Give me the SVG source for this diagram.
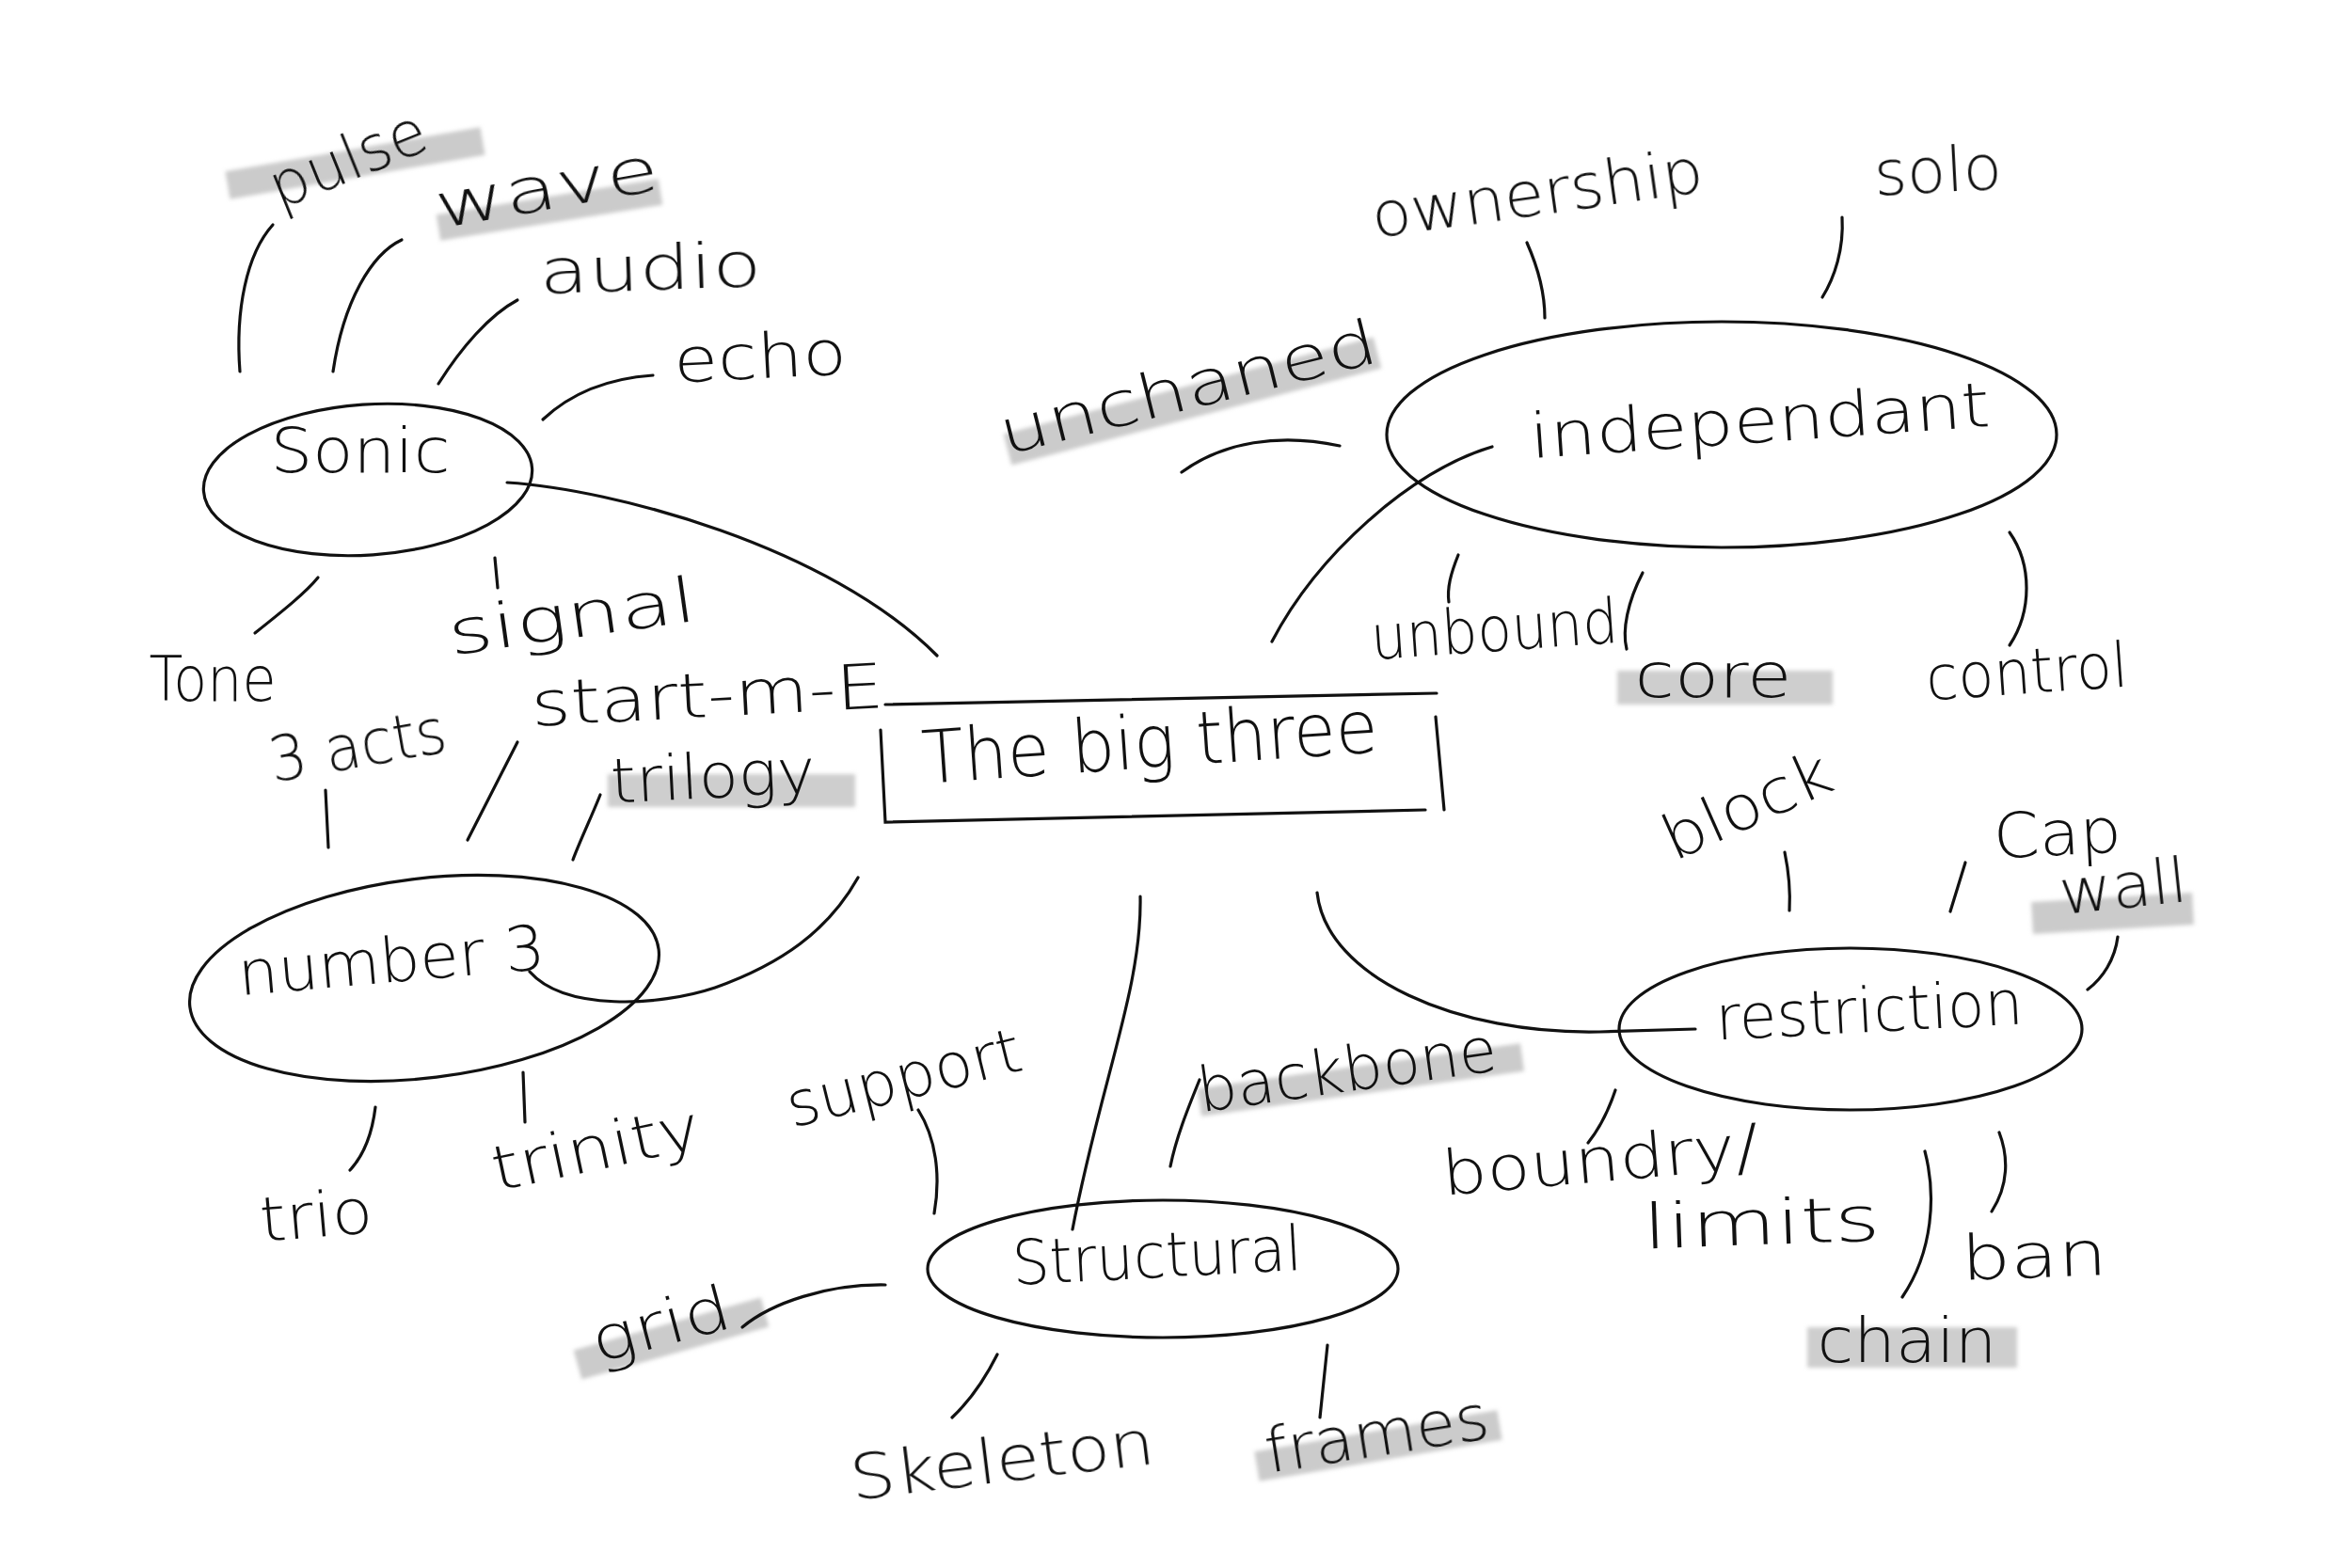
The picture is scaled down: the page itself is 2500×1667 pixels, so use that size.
<svg xmlns="http://www.w3.org/2000/svg" width="2500" height="1667" viewBox="0 0 2500 1667">
<style>
.t{font-family:"DejaVu Sans","Liberation Sans",Arial,sans-serif;font-weight:200;font-size:66px;fill:#111;text-anchor:middle}
.big{font-size:78px}
.n{fill:none;stroke:#111;stroke-width:3.2;stroke-linecap:round}
.c{fill:none;stroke:#111;stroke-width:3.2;stroke-linecap:round}
.hl{fill:none;stroke:#c2c2c2;stroke-linecap:butt;opacity:0.85}
.hr{fill:#c6c6c6;opacity:0.85}
</style>
<defs>
<filter id="soft" x="-10%" y="-30%" width="120%" height="160%"><feGaussianBlur stdDeviation="2"/></filter>
</defs>
<rect width="2500" height="1667" fill="#fff"/>
<g id="highlights" filter="url(#soft)">
<path class="hl" stroke-width="30" d="M242,197 L513,150"/>
<path class="hl" stroke-width="28" d="M466,242 L702,204"/>
<rect class="hr" x="646" y="823" width="263" height="35"/>
<path class="hl" stroke-width="30" d="M1275,1172 L1618,1124"/>
<path class="hl" stroke-width="32" d="M614,1451 L813,1395"/>
<path class="hl" stroke-width="32" d="M1336,1559 L1594,1515"/>
<path class="hl" stroke-width="34" d="M1071,478 L1464,375"/>
<rect class="hr" x="1719" y="713" width="229" height="36"/>
<path class="hl" stroke-width="34" d="M2160,976 L2331,966"/>
<rect class="hr" x="1921" y="1411" width="223" height="43"/>
</g>
<g id="connectors">
<path class="c" d="M539,513 C650,520 880,580 996,697"/>
<path class="c" d="M563,1033 C600,1075 700,1070 760,1050 C830,1025 880,990 912,933"/>
<path class="c" d="M1212,953 C1214,1050 1170,1150 1140,1307"/>
<path class="c" d="M1352,682 C1400,590 1500,500 1586,475"/>
<path class="c" d="M1400,949 C1410,1040 1550,1100 1700,1097 L1802,1094"/>
<path class="c" d="M255,395 C250,330 262,270 290,239"/>
<path class="c" d="M354,395 C365,320 395,270 427,255"/>
<path class="c" d="M466,408 C490,370 520,335 550,319"/>
<path class="c" d="M577,446 C610,415 650,402 694,399"/>
<path class="c" d="M271,673 C300,650 325,630 338,614"/>
<path class="c" d="M526,593 L529,625"/>
<path class="c" d="M346,840 L349,901"/>
<path class="c" d="M550,789 L497,893"/>
<path class="c" d="M638,845 C628,870 616,895 609,914"/>
<path class="c" d="M399,1177 C395,1210 385,1230 372,1244"/>
<path class="c" d="M556,1140 L558,1193"/>
<path class="c" d="M976,1180 C995,1210 1000,1250 993,1290"/>
<path class="c" d="M1275,1148 C1262,1180 1250,1210 1244,1240"/>
<path class="c" d="M789,1411 C820,1385 880,1365 941,1366"/>
<path class="c" d="M1060,1440 C1045,1470 1030,1490 1012,1507"/>
<path class="c" d="M1411,1430 L1403,1507"/>
<path class="c" d="M1256,502 C1300,470 1360,460 1424,474"/>
<path class="c" d="M1623,258 C1635,285 1642,310 1642,338"/>
<path class="c" d="M1958,231 C1960,265 1950,295 1937,316"/>
<path class="c" d="M1550,590 C1542,610 1538,625 1540,640"/>
<path class="c" d="M1746,609 C1730,640 1724,670 1729,690"/>
<path class="c" d="M2136,566 C2160,600 2160,650 2136,686"/>
<path class="c" d="M1897,906 C1902,930 1903,950 1902,968"/>
<path class="c" d="M2089,917 L2073,969"/>
<path class="c" d="M2251,996 C2248,1020 2235,1040 2219,1052"/>
<path class="c" d="M1717,1159 C1710,1180 1700,1200 1688,1215"/>
<path class="c" d="M2046,1224 C2058,1270 2055,1330 2022,1379"/>
<path class="c" d="M2125,1204 C2135,1230 2135,1260 2117,1288"/>
</g>
<g id="node-big-three">
<path class="n" d="M941,749 L1527,737 M936,776 L941,874 L1515,861 M1526,762 L1535,861"/>
<text class="t big" x="1224" y="816" textLength="485" lengthAdjust="spacingAndGlyphs" transform="rotate(-4 1224 816)">The big three</text>
</g>
<g id="node-sonic">
<ellipse class="n" cx="391" cy="510" rx="175" ry="80" transform="rotate(-4 391 510)"/>
<text class="t" x="383" y="502" textLength="191" lengthAdjust="spacingAndGlyphs">Sonic</text>
</g>
<g id="node-number3">
<ellipse class="n" cx="451" cy="1040" rx="251" ry="106" transform="rotate(-7 451 1040)"/>
<text class="t" x="418" y="1044" textLength="327" lengthAdjust="spacingAndGlyphs" transform="rotate(-5 418 1044)">number 3</text>
</g>
<g id="node-structural">
<ellipse class="n" cx="1236" cy="1349" rx="250" ry="73"/>
<text class="t" x="1231" y="1358" textLength="308" lengthAdjust="spacingAndGlyphs" transform="rotate(-3 1231 1358)">Structural</text>
</g>
<g id="node-independant">
<ellipse class="n" cx="1830" cy="462" rx="356" ry="120"/>
<text class="t" x="1872" y="470" textLength="490" lengthAdjust="spacingAndGlyphs" transform="rotate(-4 1872 470)">independant</text>
</g>
<g id="node-restriction">
<ellipse class="n" cx="1967" cy="1094" rx="246" ry="86"/>
<text class="t" x="1988" y="1097" textLength="327" lengthAdjust="spacingAndGlyphs" transform="rotate(-3 1988 1097)">restriction</text>
</g>
<g id="labels">
<text class="t" x="378" y="190" textLength="175" lengthAdjust="spacingAndGlyphs" transform="rotate(-22 378 190)">pulse</text>
<text class="t" x="585" y="222" textLength="240" lengthAdjust="spacingAndGlyphs" transform="rotate(-10 585 222)">wave</text>
<text class="t" x="692" y="308" textLength="236" lengthAdjust="spacingAndGlyphs" transform="rotate(-2 692 308)">audio</text>
<text class="t" x="809" y="402" textLength="184" lengthAdjust="spacingAndGlyphs" transform="rotate(-3 809 402)">echo</text>
<text class="t" x="226" y="745" textLength="135" lengthAdjust="spacingAndGlyphs">Tone</text>
<text class="t" x="611" y="678" textLength="265" lengthAdjust="spacingAndGlyphs" transform="rotate(-8 611 678)">signal</text>
<text class="t" x="384" y="815" textLength="190" lengthAdjust="spacingAndGlyphs" transform="rotate(-10 384 815)">3 acts</text>
<text class="t" x="753" y="762" textLength="375" lengthAdjust="spacingAndGlyphs" transform="rotate(-3 753 762)">start-m-E</text>
<text class="t" x="759" y="848" textLength="218" lengthAdjust="spacingAndGlyphs" transform="rotate(-3 759 848)">trilogy</text>
<text class="t" x="338" y="1315" textLength="120" lengthAdjust="spacingAndGlyphs" transform="rotate(-5 338 1315)">trio</text>
<text class="t" x="638" y="1243" textLength="225" lengthAdjust="spacingAndGlyphs" transform="rotate(-12 638 1243)">trinity</text>
<text class="t" x="966" y="1168" textLength="255" lengthAdjust="spacingAndGlyphs" transform="rotate(-14 966 1168)">support</text>
<text class="t" x="1435" y="1160" textLength="320" lengthAdjust="spacingAndGlyphs" transform="rotate(-8 1435 1160)">backbone</text>
<text class="t" x="708" y="1430" textLength="150" lengthAdjust="spacingAndGlyphs" transform="rotate(-15 708 1430)">grid</text>
<text class="t" x="1068" y="1575" textLength="325" lengthAdjust="spacingAndGlyphs" transform="rotate(-7 1068 1575)">Skeleton</text>
<text class="t" x="1467" y="1547" textLength="240" lengthAdjust="spacingAndGlyphs" transform="rotate(-9 1467 1547)">frames</text>
<text class="t" x="1268" y="434" textLength="411" lengthAdjust="spacingAndGlyphs" transform="rotate(-14 1268 434)">unchaned</text>
<text class="t" x="1637" y="228" textLength="355" lengthAdjust="spacingAndGlyphs" transform="rotate(-8 1637 228)">ownership</text>
<text class="t" x="2061" y="204" textLength="136" lengthAdjust="spacingAndGlyphs" transform="rotate(-3 2061 204)">solo</text>
<text class="t" x="1590" y="692" textLength="263" lengthAdjust="spacingAndGlyphs" transform="rotate(-4 1590 692)">unbound</text>
<text class="t" x="1821" y="741" textLength="167" lengthAdjust="spacingAndGlyphs">core</text>
<text class="t" x="2156" y="737" textLength="215" lengthAdjust="spacingAndGlyphs" transform="rotate(-4 2156 737)">control</text>
<text class="t" x="1866" y="877" textLength="190" lengthAdjust="spacingAndGlyphs" transform="rotate(-24 1866 877)">block</text>
<text class="t" x="2188" y="909" textLength="136" lengthAdjust="spacingAndGlyphs" transform="rotate(-3 2188 909)">Cap</text>
<text class="t" x="2259" y="965" textLength="136" lengthAdjust="spacingAndGlyphs" transform="rotate(-6 2259 965)">wall</text>
<text class="t" x="1703" y="1256" textLength="338" lengthAdjust="spacingAndGlyphs" transform="rotate(-5 1703 1256)">boundry/</text>
<text class="t" x="1873" y="1323" textLength="252" lengthAdjust="spacingAndGlyphs" transform="rotate(-2 1873 1323)">limits</text>
<text class="t" x="2163" y="1358" textLength="155" lengthAdjust="spacingAndGlyphs" transform="rotate(-2 2163 1358)">ban</text>
<text class="t" x="2027" y="1448" textLength="191" lengthAdjust="spacingAndGlyphs">chain</text>
</g>
</svg>
